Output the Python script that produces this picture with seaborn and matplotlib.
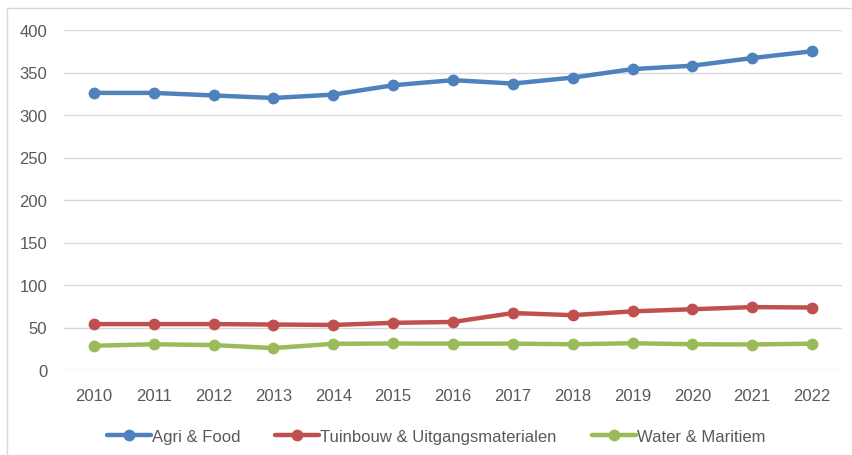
import matplotlib
matplotlib.use("Agg")
import matplotlib.pyplot as plt
from matplotlib.lines import Line2D
import pandas as pd
import seaborn as sns

years = list(range(2010, 2023))
agri_food = [326, 326, 323, 320, 324, 335, 341, 337, 344, 354, 358, 367, 375]
tuinbouw = [54, 54, 54, 53.5, 53, 55.5, 56.5, 67, 64.5, 69, 71.5, 74, 73.5]
water_maritiem = [28.5, 30.3, 29.3, 25.8, 30.8, 31.2, 31, 31, 30.3, 31.5, 30.3, 30, 31]

series_names = ["Agri & Food", "Tuinbouw & Uitgangsmaterialen", "Water & Maritiem"]
colors = ["#4F81BD", "#C0504D", "#9BBB59"]

df = pd.concat([
    pd.DataFrame({"year": years, "value": vals, "series": name})
    for name, vals in zip(series_names, [agri_food, tuinbouw, water_maritiem])
])

sns.set_style("white")
plt.rcParams["font.family"] = ["Liberation Sans", "DejaVu Sans"]

W, H = 852, 456
fig = plt.figure(figsize=(W / 100, H / 100), dpi=100)
ax = fig.add_axes([64 / W, 1 - 371 / H, (842 - 64) / W, 340 / H])

sns.lineplot(data=df, x="year", y="value", hue="series", palette=colors,
             hue_order=series_names, marker="o", markersize=8.5, linewidth=3.2,
             markeredgewidth=0, ax=ax)

ax.set_xlim(2009.5, 2022.5)
ax.set_ylim(0, 400)
ax.set_yticks(range(0, 401, 50))
ax.set_xticks(years)
ax.set_xticklabels([str(y) for y in years])
ax.yaxis.grid(True, color="#D9D9D9", linewidth=1)
ax.set_axisbelow(True)
for s in ax.spines.values():
    s.set_visible(False)
ax.tick_params(axis="both", length=0, labelsize=12, colors="#595959")
ax.tick_params(axis="x", pad=13)
ax.tick_params(axis="y", pad=12)
ax.set_xlabel("")
ax.set_ylabel("")

handles, labels = ax.get_legend_handles_labels()
ax.legend(handles, labels, loc="upper center", bbox_to_anchor=(0.478, -0.13),
          ncol=3, frameon=False, fontsize=12, handlelength=2.65,
          columnspacing=2.1, handletextpad=0.05, labelcolor="#595959")

# faint chart-area border (left and top edges visible in the original)
fig.add_artist(Line2D([7 / W, 7 / W], [0, 1 - 9 / H], color="#D9D9D9", linewidth=1))
fig.add_artist(Line2D([7 / W, 1], [1 - 9 / H, 1 - 9 / H], color="#D9D9D9", linewidth=1))

fig.savefig("out.png", dpi=100)
